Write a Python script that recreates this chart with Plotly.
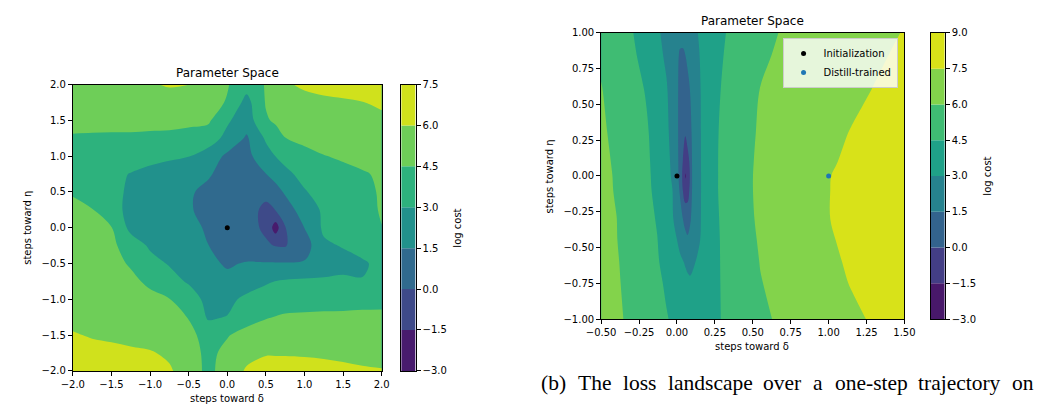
import plotly.graph_objects as go

W, H = 1052, 410

# ---------------- left panel data (log cost) ----------------
left_x = [-2.0, -1.75, -1.5, -1.25, -1.0, -0.75, -0.5, -0.25, 0.0, 0.25, 0.5, 0.625, 0.75, 1.0, 1.25, 1.5, 1.75, 2.0]
left_y = [-2.0, -1.75, -1.5, -1.25, -1.0, -0.75, -0.5, -0.25, 0.0, 0.25, 0.5, 0.75, 1.0, 1.25, 1.5, 1.75, 2.0]
left_z = [
    [7.0, 6.9, 6.8, 6.7, 6.5, 6.15, 5.4, 4.1, 5.2, 6.15, 6.4, 6.4, 6.4, 6.35, 6.3, 6.2, 6.1, 6.05],
    [6.5, 6.4, 6.3, 6.2, 6.1, 5.8, 5.2, 4.1, 4.9, 5.6, 5.92, 5.92, 5.92, 5.9, 5.85, 5.8, 5.75, 5.7],
    [6.1, 5.9, 5.8, 5.65, 5.5, 5.2, 5.0, 3.8, 4.4, 5.0, 5.3, 5.4, 5.45, 5.5, 5.55, 5.6, 5.65, 5.7],
    [5.65, 5.6, 5.5, 5.35, 5.15, 4.85, 4.45, 2.85, 3.05, 3.9, 4.4, 4.55, 4.7, 4.75, 4.8, 4.8, 4.85, 4.85],
    [5.6, 5.5, 5.35, 5.15, 4.9, 4.55, 3.7, 2.6, 2.6, 3.35, 3.6, 3.7, 3.75, 3.85, 3.9, 3.95, 4.0, 4.05],
    [5.5, 5.4, 5.2, 4.85, 4.2, 3.5, 2.85, 2.2, 1.85, 2.2, 2.85, 3.02, 3.15, 3.25, 3.3, 3.3, 3.05, 3.2],
    [5.4, 5.25, 4.95, 4.35, 3.45, 2.9, 2.3, 1.8, 1.35, 1.6, 1.6, 1.6, 1.6, 1.65, 2.0, 2.5, 2.85, 3.3],
    [5.3, 5.1, 4.8, 3.8, 2.8, 2.35, 1.95, 1.52, 1.0, 0.6, 0.15, -0.05, -0.1, 0.8, 2.75, 3.1, 3.4, 3.6],
    [5.2, 4.9, 4.55, 2.6, 2.3, 2.05, 1.85, 1.35, 0.9, 0.4, -0.2, -2.2, -0.05, 1.52, 3.25, 3.6, 4.1, 4.48],
    [4.9, 4.55, 3.4, 2.7, 2.3, 1.95, 1.6, 1.2, 0.8, 0.35, -0.2, 0.02, 0.7, 2.3, 3.2, 3.7, 4.1, 4.6],
    [4.35, 4.0, 3.35, 2.8, 2.4, 2.0, 1.65, 1.2, 0.9, 0.6, 0.25, 0.9, 1.7, 2.9, 3.5, 3.9, 4.25, 4.6],
    [3.85, 3.6, 3.3, 2.95, 2.6, 2.3, 2.0, 1.65, 1.0, 0.8, 1.48, 2.1, 2.7, 3.4, 3.8, 4.1, 4.4, 4.65],
    [4.0, 3.9, 3.75, 3.6, 3.45, 3.25, 3.05, 2.4, 1.2, 1.1, 2.4, 3.02, 3.4, 4.0, 4.45, 4.7, 4.85, 5.0],
    [4.4, 4.35, 4.35, 4.35, 4.3, 4.3, 4.2, 3.7, 2.6, 1.3, 3.2, 3.9, 4.48, 4.9, 5.1, 5.25, 5.35, 5.5],
    [4.8, 4.85, 4.8, 4.8, 4.8, 4.75, 4.7, 4.75, 3.2, 2.2, 4.35, 4.7, 5.0, 5.3, 5.45, 5.55, 5.65, 5.75],
    [5.2, 5.25, 5.3, 5.35, 5.45, 5.5, 5.4, 5.0, 4.4, 2.5, 4.6, 4.95, 5.3, 5.6, 5.75, 5.85, 5.97, 6.2],
    [5.4, 5.5, 5.6, 5.75, 5.9, 6.1, 6.05, 5.35, 4.6, 3.6, 4.6, 5.2, 5.85, 6.2, 6.4, 6.5, 6.6, 6.8],
]
left_levels = [-3.0, -1.5, 0.0, 1.5, 3.0, 4.5, 6.0, 7.5]
left_colors = ["#481b6d", "#3e4a89", "#306a8e", "#21918c", "#2db27d", "#6ece58", "#d0e11c"]
left_init_x = [0.0]
left_init_y = [0.0]

# ---------------- right panel data ----------------
right_x = [-0.5, -0.4, -0.3, -0.2, -0.13, -0.07, -0.03, 0.0, 0.02, 0.04, 0.055, 0.07, 0.085, 0.1,
           0.13, 0.16, 0.2, 0.27, 0.35, 0.45, 0.55, 0.7, 0.85, 1.0, 1.15, 1.3, 1.5]
right_y = [-1.0, -0.75, -0.6, -0.45, -0.3, -0.1, 0.0, 0.1, 0.3, 0.6, 0.85, 1.0]
right_z = [
    [6.6, 6.21, 5.76, 5.25, 4.88, 4.57, 4.38, 4.25, 4.15, 4.06, 3.99, 3.93, 3.86, 3.79, 3.75, 3.89, 4.08, 4.41, 4.79, 5.27, 5.76, 6.23, 6.59, 6.94, 7.29, 7.62, 8.0],
    [6.55, 6.14, 5.65, 5.10, 4.72, 4.36, 4.07, 3.85, 3.71, 3.56, 3.45, 3.34, 3.24, 3.27, 3.47, 3.67, 3.94, 4.41, 4.86, 5.41, 5.95, 6.38, 6.78, 7.18, 7.55, 7.81, 8.15],
    [6.5, 6.1, 5.58, 5.01, 4.61, 4.11, 3.73, 3.44, 3.24, 3.05, 2.86, 2.64, 2.56, 2.75, 3.09, 3.38, 3.75, 4.41, 4.91, 5.50, 6.04, 6.46, 6.88, 7.30, 7.64, 7.90, 8.25],
    [6.45, 6.04, 5.49, 4.92, 4.53, 3.84, 3.36, 3.02, 2.64, 2.28, 2.01, 1.74, 1.83, 2.1, 2.64, 3.12, 3.59, 4.41, 4.97, 5.61, 6.12, 6.55, 6.98, 7.41, 7.70, 7.96, 8.3],
    [6.4, 6.02, 5.43, 4.86, 4.41, 3.64, 3.13, 2.5, 2.0, 1.48, 0.96, 0.78, 1.32, 1.73, 2.41, 3.05, 3.55, 4.44, 5.02, 5.72, 6.18, 6.62, 7.06, 7.48, 7.76, 8.01, 8.35],
    [6.35, 5.91, 5.34, 4.76, 4.20, 3.48, 3.02, 2.06, 1.35, -0.09, -0.77, -0.57, 0.21, 1.57, 2.31, 3.03, 3.56, 4.49, 5.07, 5.79, 6.20, 6.63, 7.07, 7.48, 7.76, 8.01, 8.35],
    [6.35, 5.88, 5.31, 4.73, 4.14, 3.42, 2.85, 1.93, 1.07, -0.42, -1.65, -0.94, 0.02, 1.55, 2.30, 3.03, 3.56, 4.49, 5.07, 5.79, 6.20, 6.62, 7.05, 7.47, 7.74, 8.0, 8.35],
    [6.3, 5.83, 5.26, 4.70, 4.09, 3.38, 2.76, 1.86, 1.04, -0.09, -0.77, -0.57, 0.21, 1.58, 2.33, 3.04, 3.57, 4.49, 5.06, 5.77, 6.18, 6.58, 6.98, 7.38, 7.68, 7.95, 8.3],
    [6.2, 5.71, 5.17, 4.63, 3.98, 3.29, 2.58, 1.73, 1.14, 0.55, 0.1, 0.63, 1.15, 1.62, 2.36, 3.05, 3.57, 4.47, 5.02, 5.70, 6.13, 6.49, 6.85, 7.21, 7.55, 7.81, 8.15],
    [6.05, 5.56, 5.01, 4.40, 3.73, 3.14, 2.40, 1.69, 1.22, 0.76, 0.79, 1.15, 1.49, 1.83, 2.49, 3.08, 3.55, 4.38, 4.91, 5.50, 6.03, 6.33, 6.63, 6.93, 7.24, 7.54, 7.9],
    [5.85, 5.30, 4.75, 4.01, 3.40, 2.77, 2.15, 1.69, 1.39, 1.30, 1.51, 1.75, 2.0, 2.25, 2.75, 3.15, 3.55, 4.25, 4.78, 5.29, 5.80, 6.20, 6.48, 6.76, 7.04, 7.31, 7.7],
    [5.7, 5.15, 4.60, 3.80, 3.19, 2.64, 2.27, 1.99, 1.8, 2.0, 2.16, 2.31, 2.47, 2.62, 2.93, 3.2, 3.55, 4.15, 4.68, 5.14, 5.59, 6.11, 6.38, 6.65, 6.92, 7.19, 7.55],
]
right_levels = [-3.0, -1.5, 0.0, 1.5, 3.0, 4.5, 6.0, 7.5, 9.0]
right_colors = ["#48186a", "#433e85", "#33638d", "#26828e", "#1fa188", "#3fbc73", "#83d34b", "#d8e219"]
init_x = [0.0]
init_y = [0.0]
distill_x = [1.0]
distill_y = [0.0]

caption_words = ["(b)", "The", "loss", "landscape", "over", "a", "one-step", "trajectory", "on"]
caption_px = [537, 575, 621, 668, 765, 816, 839, 924, 1020]

FONT = "DejaVu Sans"


def fill_scale(colors):
    n = len(colors) + 1  # number of contour levels
    scale = [[0.0, colors[0]]]
    for k, c in enumerate(colors, start=1):
        scale.append([k / n, c])
    scale.append([1.0, colors[-1]])
    return scale


def px_x(p):
    return p / W


def px_y(p):
    return 1 - p / H


fig = go.Figure()

# left contour
fig.add_trace(go.Contour(
    x=left_x, y=left_y, z=left_z, autocontour=False,
    contours=dict(start=left_levels[0], end=left_levels[-1], size=left_levels[1] - left_levels[0],
                  coloring="fill", showlines=False),
    colorscale=fill_scale(left_colors), showscale=False,
    line=dict(width=0, smoothing=1), hoverinfo="skip", xaxis="x", yaxis="y"))
fig.add_trace(go.Scatter(x=left_init_x, y=left_init_y, mode="markers",
                         marker=dict(color="black", size=5), showlegend=False,
                         xaxis="x", yaxis="y"))
# left colorbar
nL = len(left_colors)
fig.add_trace(go.Bar(x=[0] * nL, y=[left_levels[i + 1] - left_levels[i] for i in range(nL)],
                     base=left_levels[:-1], width=[1] * nL,
                     marker=dict(color=left_colors, line=dict(width=0)),
                     showlegend=False, hoverinfo="skip", xaxis="x2", yaxis="y2"))

# right contour
fig.add_trace(go.Contour(
    x=right_x, y=right_y, z=right_z, autocontour=False,
    contours=dict(start=right_levels[0], end=right_levels[-1], size=right_levels[1] - right_levels[0],
                  coloring="fill", showlines=False),
    colorscale=fill_scale(right_colors), showscale=False,
    line=dict(width=0, smoothing=1), hoverinfo="skip", xaxis="x3", yaxis="y3"))
fig.add_trace(go.Scatter(x=init_x, y=init_y, mode="markers", name="Initialization",
                         marker=dict(color="black", size=5), xaxis="x3", yaxis="y3"))
fig.add_trace(go.Scatter(x=distill_x, y=distill_y, mode="markers", name="Distill-trained",
                         marker=dict(color="#1f77b4", size=5), xaxis="x3", yaxis="y3"))
# right colorbar
nR = len(right_colors)
fig.add_trace(go.Bar(x=[0] * nR, y=[right_levels[i + 1] - right_levels[i] for i in range(nR)],
                     base=right_levels[:-1], width=[1] * nR,
                     marker=dict(color=right_colors, line=dict(width=0)),
                     showlegend=False, hoverinfo="skip", xaxis="x4", yaxis="y4"))

ax = dict(showline=True, linecolor="black", linewidth=1, mirror=True, ticks="outside",
          ticklen=4, tickwidth=1, tickcolor="black", showgrid=False, zeroline=False,
          tickfont=dict(size=10, color="black", family=FONT))
cbx = dict(showline=True, linecolor="black", linewidth=1, mirror=True, ticks="",
           showticklabels=False, showgrid=False, zeroline=False, range=[-0.5, 0.5], fixedrange=True)

left_dom_y = [px_y(376), px_y(81.7)]
right_dom_y = [px_y(322.7), px_y(28.7)]

fig.update_layout(
    width=W, height=H, margin=dict(l=0, r=0, t=0, b=0),
    paper_bgcolor="white", plot_bgcolor="white",
    font=dict(family=FONT, size=10, color="black"),
    showlegend=True,
    xaxis=dict(ax, domain=[px_x(59.3), px_x(376)], range=[-2, 2], dtick=0.5, tickformat=".1f", anchor="y"),
    yaxis=dict(ax, domain=left_dom_y, range=[-2, 2], dtick=0.5, tickformat=".1f", anchor="x"),
    xaxis2=dict(cbx, domain=[px_x(396), px_x(410.7)], anchor="y2"),
    yaxis2=dict(ax, domain=left_dom_y, range=[left_levels[0], left_levels[-1]], dtick=1.5,
                tickformat=".1f", side="right", anchor="x2"),
    xaxis3=dict(ax, domain=[px_x(601), px_x(912)], range=[-0.5, 1.5], dtick=0.25, tickformat=".2f", anchor="y3"),
    yaxis3=dict(ax, domain=right_dom_y, range=[-1, 1], dtick=0.25, tickformat=".2f", anchor="x3"),
    xaxis4=dict(cbx, domain=[px_x(939), px_x(953.3)], anchor="y4"),
    yaxis4=dict(ax, domain=right_dom_y, range=[right_levels[0], right_levels[-1]], dtick=1.5,
                tickformat=".1f", side="right", anchor="x4"),
    legend=dict(x=px_x(787), xanchor="left", y=px_y(34), yanchor="top",
                bgcolor="rgba(255,255,255,0.8)", bordercolor="#cccccc", borderwidth=1,
                font=dict(size=10, family=FONT, color="black")),
)

ann = []


def add_text(text, x, y, size=10, angle=0, family=FONT, xanchor="center"):
    ann.append(dict(text=text, x=px_x(x), y=px_y(y), xref="paper", yref="paper",
                    showarrow=False, textangle=angle, xanchor=xanchor, yanchor="middle",
                    font=dict(size=size, family=family, color="black")))


add_text("Parameter Space", 217.6, 69.5, size=12)
add_text("Parameter Space", 756.5, 16.7, size=12)
add_text("steps toward δ", 217.6, 404, size=10)
add_text("steps toward δ", 756, 350.5, size=10)
add_text("steps toward η", 13.3, 229, size=10, angle=-90)
add_text("steps toward η", 548.3, 176.5, size=10, angle=-90)
add_text("log cost", 454, 229, size=10, angle=-90)
add_text("log cost", 997, 176, size=10, angle=-90)
for w, p in zip(caption_words, caption_px):
    add_text(w, p, 388, size=21.5, family="Liberation Serif", xanchor="left")

fig.update_layout(annotations=ann)

fig.write_html("out.html")
